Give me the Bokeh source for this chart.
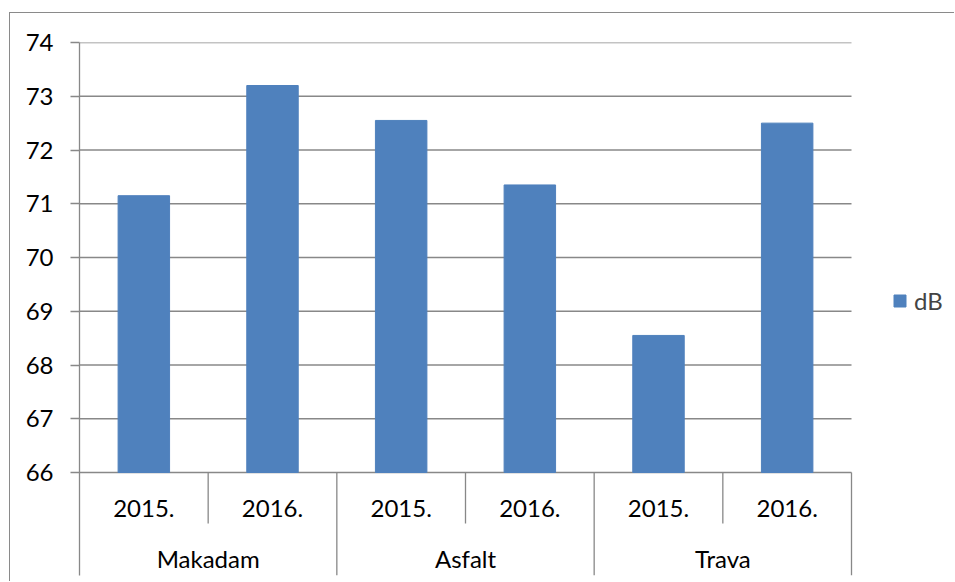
from bokeh.plotting import figure
from bokeh.models import Range1d, FixedTicker, Legend, LegendItem, ColumnDataSource
from bokeh.embed import file_html
from bokeh.resources import INLINE
from bokeh.core.properties import value

# ---- data ----
surfaces = ["Makadam", "Asfalt", "Trava"]
years = ["2015.", "2016."]
db_values = [71.15, 73.2, 72.55, 71.35, 68.55, 72.5]
y_ticks = [66, 67, 68, 69, 70, 71, 72, 73, 74]
series_name = "dB"

BAR = "#4F81BD"
GRID = "#888888"
FONT = "Lato"
FS = "24px"

n_sub = len(years)
n_cat = len(surfaces) * n_sub
cat_years = [y for s in surfaces for y in years]
x_pos = [i + 0.5 for i in range(n_cat)]
grp_pos = [g * n_sub + n_sub / 2 for g in range(len(surfaces))]

y_base = y_ticks[0]
y_top = y_ticks[-1]
PXU = 53.75            # frame pixels per dB
PXC = 772 / n_cat      # frame pixels per category
FRAME_W = 876
y_min = y_base - 103 / PXU

p = figure(width=945, height=569,
           x_range=Range1d(0, FRAME_W / PXC), y_range=Range1d(y_min, y_top),
           output_backend="svg", toolbar_location=None, x_axis_location=None,
           min_border_left=69, min_border_right=0, min_border_top=29,
           min_border_bottom=7)
p.styles = {"margin-left": "9px", "margin-top": "12px",
            "border-left": "1px solid #8a8a8a", "border-top": "1px solid #8a8a8a"}
p.outline_line_color = None
p.background_fill_color = "white"
p.border_fill_color = "white"
p.xgrid.visible = False
p.ygrid.visible = False

# y axis
ax = p.yaxis[0]
ax.ticker = FixedTicker(ticks=y_ticks)
ax.axis_line_color = GRID
ax.axis_line_width = 1.3
ax.major_tick_line_color = GRID
ax.major_tick_line_width = 1.3
ax.major_tick_out = 9
ax.major_tick_in = 0
ax.minor_tick_line_color = None
ax.major_label_text_font = FONT
ax.major_label_text_font_size = FS
ax.major_label_text_color = "black"
ax.major_label_standoff = 17

# horizontal gridlines over the category span only
p.segment(x0=[0] * len(y_ticks), x1=[n_cat] * len(y_ticks), y0=y_ticks, y1=y_ticks,
          line_color=GRID, line_width=1.3)

# bars
src = ColumnDataSource(dict(x=x_pos, top=db_values))
bars = p.vbar(x="x", top="top", bottom=y_base, width=0.4, source=src,
              fill_color=BAR, line_color=BAR)

# category separators
sx, sy0, sy1 = [], [], []
year_row = y_base - 36 / PXU
group_row = y_base - 86 / PXU
sep_short = y_base - 51 / PXU
for i in range(1, n_cat + 1):
    sx.append(i)
    sy0.append(y_base)
    sy1.append(y_min if i % n_sub == 0 else sep_short)
p.segment(x0=sx, x1=sx, y0=sy0, y1=sy1, line_color=GRID, line_width=1.3)

# category labels
p.text(x=x_pos, y=[year_row] * n_cat, text=cat_years,
       text_font=value(FONT), text_font_size=FS, text_align="center",
       text_baseline="middle", text_color="black")
p.text(x=grp_pos, y=[group_row] * len(surfaces), text=surfaces,
       text_font=value(FONT), text_font_size=FS, text_align="center",
       text_baseline="middle", text_color="black")

# legend
legend = Legend(items=[LegendItem(label=series_name, renderers=[bars])],
                location=(813, 260), padding=0, margin=0, spacing=0,
                glyph_width=15, glyph_height=15, label_standoff=7,
                border_line_color=None, background_fill_alpha=0,
                label_text_font=FONT, label_text_font_size=FS)
p.add_layout(legend, "center")

open("out.html", "w").write(file_html(p, INLINE))
